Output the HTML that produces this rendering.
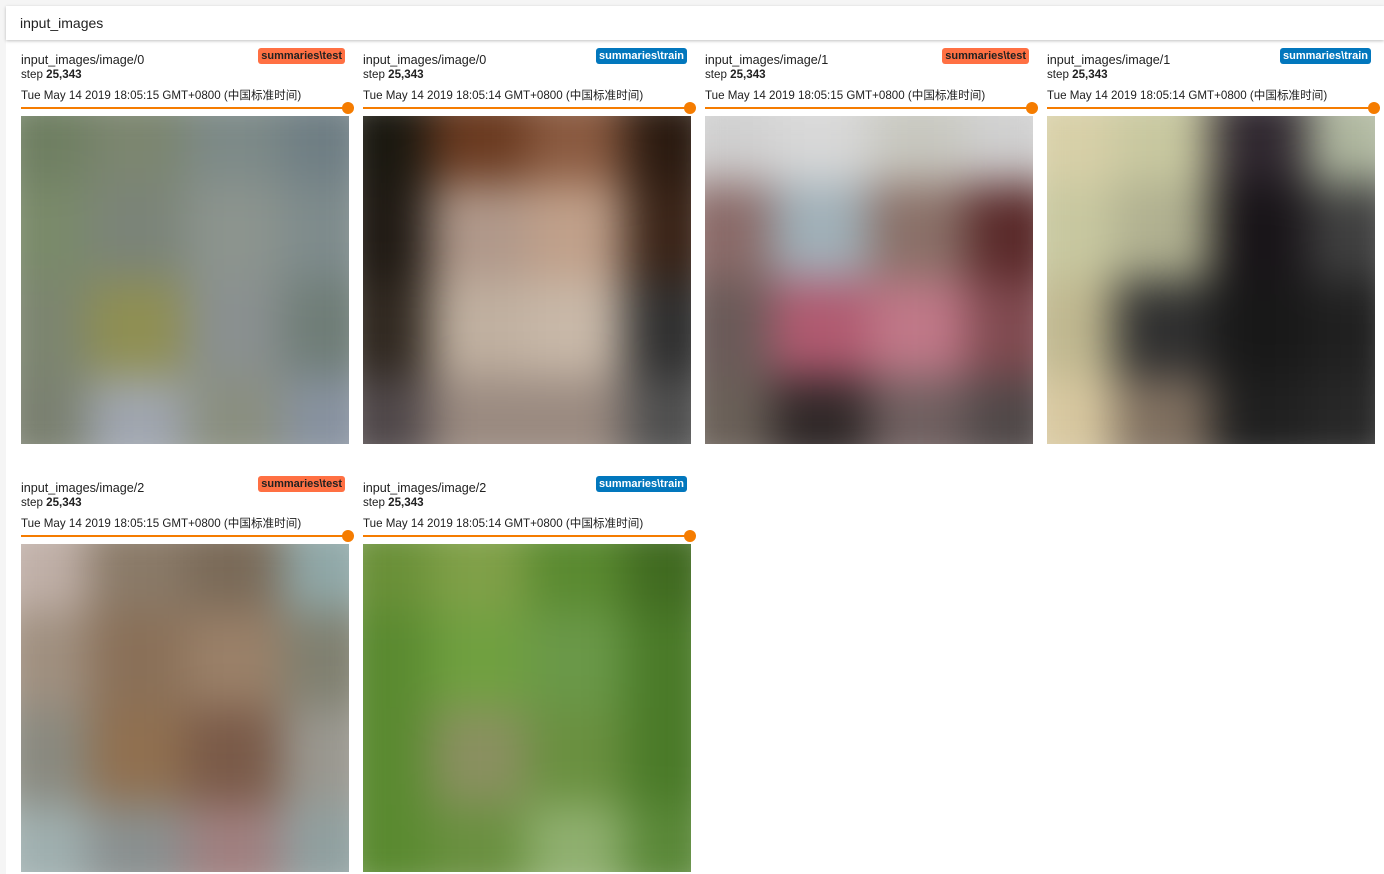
<!DOCTYPE html>
<html><head><meta charset="utf-8"><style>
body{margin:0;width:1384px;height:874px;background:#f5f5f5;font-family:"Liberation Sans","Noto Sans CJK SC",sans-serif;overflow:hidden;position:relative;color:#212121}
#hdr{position:absolute;left:6px;top:6px;width:1378px;height:34px;background:#fff;box-shadow:0 1px 3px rgba(0,0,0,.25);z-index:2}
#hdr span{position:absolute;left:14px;top:9px;font-size:14px}
#pane{position:absolute;left:6px;top:40px;width:1378px;height:834px;background:#fff}
.card{position:absolute;width:328px;height:400px}
.t{position:absolute;left:0;top:13px;font-size:12.6px}
.s{position:absolute;left:0;top:28px;font-size:11.6px}
.d{position:absolute;left:0;top:47px;font-size:11.6px}
.tag{position:absolute;right:4px;top:8px;font-size:11px;font-weight:bold;padding:2px 3px;border-radius:3px}
.line{position:absolute;left:0;top:67px;width:327px;height:2px;background:#f57c00}
.dot{position:absolute;left:321px;top:62px;width:12px;height:12px;border-radius:50%;background:#f57c00}
.img{position:absolute;left:0;top:76px;width:328px;height:328px;overflow:hidden}
.g{position:absolute;left:-30px;top:-30px;width:388px;height:388px;display:grid;grid-template-columns:repeat(4,1fr);filter:blur(22px)}
</style></head><body>
<div id="hdr"><span>input_images</span></div>
<div id="pane"></div>
<script>
const titles=["input_images/image/0","input_images/image/0","input_images/image/1","input_images/image/1","input_images/image/2","input_images/image/2"];
const runs=["test","train","test","train","test","train"];
const times=["18:05:15","18:05:14","18:05:15","18:05:14","18:05:15","18:05:14"];
const colors=[
"#6f7f62 #7c8670 #7d8a88 #6f7e84 #7a8a6a #7b8478 #8c948e #7e8b8c #7c8570 #8f8f52 #8a9090 #6f7d77 #7a8070 #a0a6b0 #8a8f80 #8892a0",
"#1a1810 #6a3a20 #8a5a40 #2a1a10 #201a14 #b0988a #c0a08a #3a2418 #302820 #c0b0a0 #c8b8a8 #303030 #50484a #9a8a80 #9a8a80 #505050",
"#d0d0d0 #d8d8d8 #c8c8c0 #d0d0d0 #8a6a68 #a0b0b8 #8a7068 #5a2a2a #6a5a58 #b05a70 #c07888 #804a50 #6a6058 #302828 #706060 #504848",
"#d8d0a8 #c8c8a0 #302830 #b0b8a0 #c8c8a0 #b0b090 #181418 #404040 #c0b890 #303030 #181818 #202020 #d8c8a0 #807060 #202020 #282828",
"#c0b0a8 #8a7a68 #7a6a58 #90a8a8 #a09080 #8a7058 #9a8068 #808070 #8a8a80 #907050 #7a5a48 #9a9890 #a0b0b0 #8a9090 #a08080 #90a0a0",
"#6a9038 #80a048 #5a8a30 #406a20 #5a8a30 #70a040 #6a9848 #4a7a28 #5a8a30 #8a9060 #6a9040 #4a7a28 #5a8a30 #6a9040 #90b070 #5a8838"];
const pos=[[21,0],[363,0],[705,0],[1047,0],[21,1],[363,1]];
titles.forEach((t,i)=>{
const c=document.createElement('div');c.className='card';


c.style.left=pos[i][0]+'px';c.style.top=(40+pos[i][1]*428)+'px';
const tr=runs[i]==='test';
c.innerHTML=`<div class="t">${t}</div><div class="s">step <b>25,343</b></div><div class="d">Tue May 14 2019 ${times[i]} GMT+0800 (中国标准时间)</div><div class="tag" style="background:${tr?'#ff7043':'#0277bd'};color:${tr?'#212121':'#fff'}">summaries\\${runs[i]}</div><div class="line"></div><div class="dot"></div><div class="img"><div class="g">${colors[i].split(' ').map(x=>`<div style="background:${x}"></div>`).join('')}</div></div>`;
c.querySelector('.tag');
c.querySelector('.tag');
c.querySelector('.dot');
c.querySelector('.dot');
c.querySelector('.img');
c.querySelector('.img');
document.body.appendChild(c);
});
</script>
</body></html>
